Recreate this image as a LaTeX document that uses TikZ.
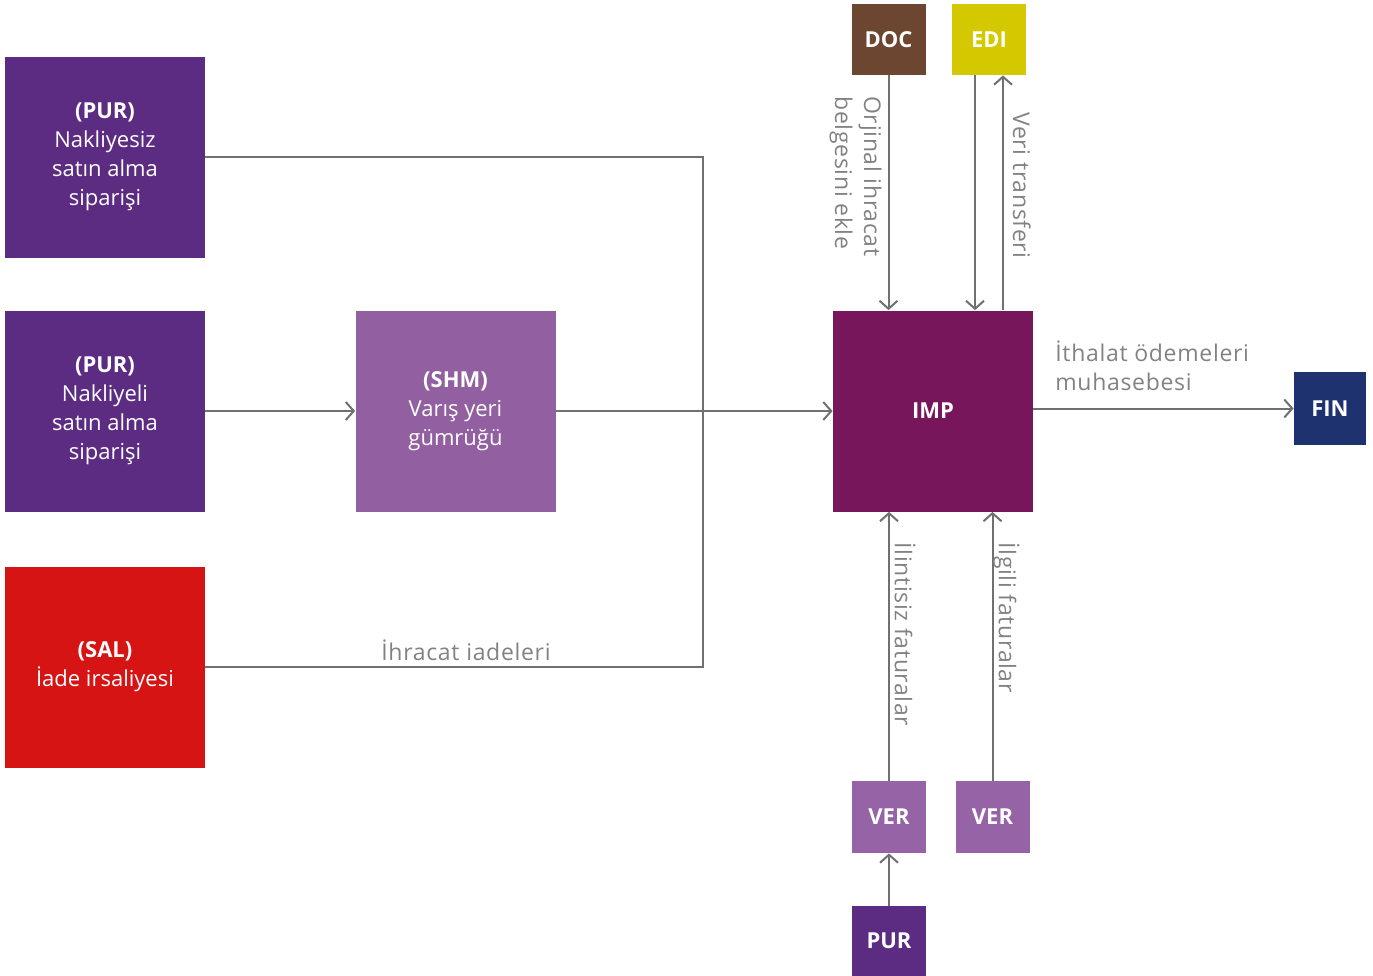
\documentclass[tikz,border=0pt]{standalone}
\usepackage{fontspec}
\setmainfont{Open Sans}
\usetikzlibrary{arrows.meta}
\definecolor{purdark}{RGB}{92,44,130}
\definecolor{shmc}{RGB}{146,96,160}
\definecolor{verc}{RGB}{150,100,166}
\definecolor{impc}{RGB}{120,22,92}
\definecolor{docc}{RGB}{108,70,48}
\definecolor{edic}{RGB}{212,200,0}
\definecolor{finc}{RGB}{30,50,112}
\definecolor{salc}{RGB}{214,20,20}
\definecolor{linec}{RGB}{112,112,112}
\definecolor{labc}{RGB}{130,130,130}
\tikzset{
  bigbox/.style={draw=none, fill=#1, minimum width=100pt, minimum height=100.5pt, inner sep=2pt,
    text=white, align=center, font=\fontsize{11}{14.5}\selectfont},
  smallbox/.style={draw=none, fill=#1, minimum width=37pt, minimum height=36pt, inner sep=1pt,
    text=white, align=center, font=\fontsize{11}{14.5}\selectfont\bfseries},
  arr/.style={draw=linec, line width=1pt, -{Straight Barb[length=4pt,width=9pt,line width=1pt]}},
  ln/.style={draw=linec, line width=1pt},
  lab/.style={text=labc, font=\fontsize{11.5}{14.5}\selectfont\addfontfeatures{LetterSpace=3}, inner sep=1pt},
}
\begin{document}
\begin{tikzpicture}[x=0.5pt,y=-0.5pt]
\useasboundingbox (0,0) rectangle (1373,976);
% nodes
\node[bigbox=purdark] (pur1) at (105,157) {\textbf{(PUR)}\\Nakliyesiz\\satın alma\\siparişi};
\node[bigbox=purdark] (pur2) at (105,411) {\textbf{(PUR)}\\Nakliyeli\\satın alma\\siparişi};
\node[bigbox=salc] (sal) at (105,667) {\textbf{(SAL)}\\İade irsaliyesi};
\node[bigbox=shmc] (shm) at (455.5,411) {\textbf{(SHM)}\\Varış yeri\\gümrüğü};
\node[bigbox=impc, font=\fontsize{11}{14.5}\selectfont\bfseries] (imp) at (933,411) {IMP};
\node[smallbox=docc, minimum height=35.5pt] (doc) at (888.5,39.5) {DOC};
\node[smallbox=edic, minimum height=35.5pt] (edi) at (989,39.5) {EDI};
\node[smallbox=finc, minimum width=36pt, minimum height=36.5pt] (fin) at (1330,408.5) {FIN};
\node[smallbox=verc] (ver1) at (889,817) {VER};
\node[smallbox=verc] (ver2) at (992.5,817) {VER};
\node[smallbox=purdark, minimum height=35pt] (pur3) at (889,941) {PUR};
\coordinate (jn) at (703,411);
% connectors
\draw[ln] (pur1.east) -| (jn);
\draw[ln] (sal.east) -| (jn);
\draw[arr] (pur2.east) -- (shm.west);
\draw[arr] (shm.east) -- (imp.west);
\draw[arr] (doc.south) -- (doc.south |- imp.north);
\draw[arr] ([xshift=-7pt]edi.south) -- ([xshift=-7pt]edi.south |- imp.north);
\draw[arr] ([xshift=7pt]edi.south |- imp.north) -- ([xshift=7pt]edi.south);
\draw[arr] (ver1.north) -- (ver1.north |- imp.south);
\draw[arr] (ver2.north) -- (ver2.north |- imp.south);
\draw[arr] (pur3.north) -- (ver1.south);
\draw[arr] (imp.east |- fin.west) -- (fin.west);
% labels
\node[lab, rotate=-90, align=left, anchor=north west] (l1) at (884,94) {Orjinal ihracat\\belgesini ekle};
\node[lab, rotate=-90, anchor=north west] (l2) at (1033,110) {Veri transferi};
\node[lab, rotate=-90, anchor=north west] (l3) at (918,540) {İlintisiz faturalar};
\node[lab, rotate=-90, anchor=north west] (l4) at (1022,540) {İlgili faturalar};
\node[lab, align=left, anchor=north west] (l5) at (1053,338) {İthalat ödemeleri\\muhasebesi};
\node[lab] (l6) at (466,650) {İhracat iadeleri};
\end{tikzpicture}
\end{document}
